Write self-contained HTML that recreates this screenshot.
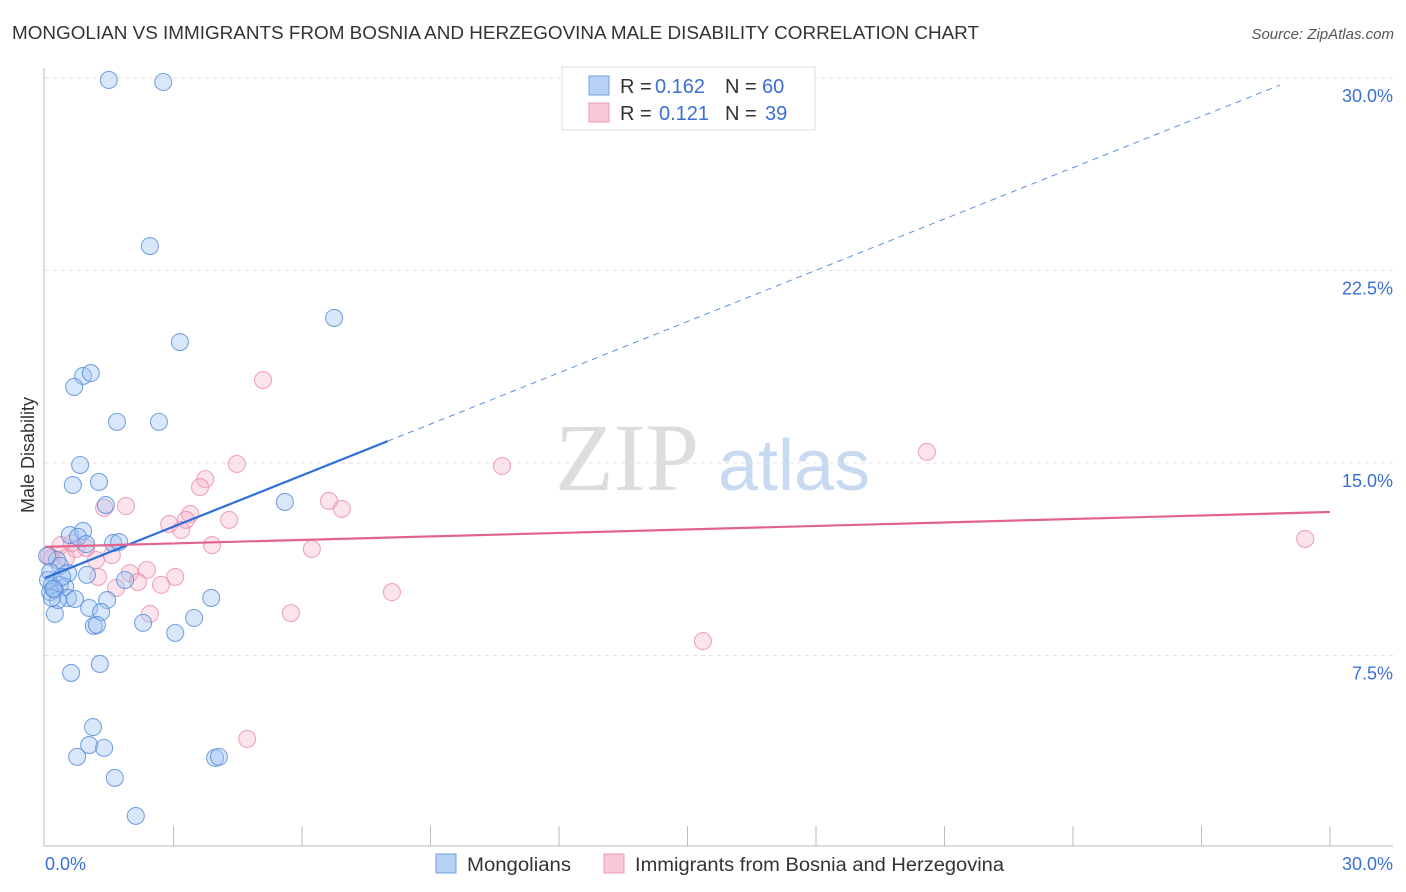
<!DOCTYPE html>
<html><head><meta charset="utf-8"><style>
body{margin:0;background:#fff;font-family:"Liberation Sans",sans-serif}
svg{display:block}
</style></head><body>
<svg id="c" width="1406" height="892" xmlns="http://www.w3.org/2000/svg">
<text x="12" y="39" font-size="18" fill="#333" textLength="967" lengthAdjust="spacingAndGlyphs">MONGOLIAN VS IMMIGRANTS FROM BOSNIA AND HERZEGOVINA MALE DISABILITY CORRELATION CHART</text>
<text x="1394" y="39" font-size="15" fill="#555" font-style="italic" text-anchor="end">Source: ZipAtlas.com</text>
<text transform="translate(34,455) rotate(-90)" font-size="18" fill="#333" text-anchor="middle">Male Disability</text>
<g><text x="555" y="490" font-size="96" fill="#ddd" font-family="Liberation Serif,serif">ZIP</text><text x="718" y="490" font-size="72" fill="#c8daf2">atlas</text></g>
<g id="grid"></g><g id="axes"></g><g id="lines"></g><g id="pts"></g>
<g>
<rect x="562" y="67" width="253" height="63" fill="#fff" stroke="#ddd"/>
<rect x="589" y="76" width="20" height="19" fill="#b8d2f5" stroke="#6f9fe0"/>
<rect x="589" y="103" width="20" height="19" fill="#f9c8d8" stroke="#e99ab4"/>
<text y="93" font-size="20" fill="#333"><tspan x="620">R =</tspan><tspan x="655" fill="#3a6fd6">0.162</tspan><tspan x="725">N =</tspan><tspan x="762" fill="#3a6fd6">60</tspan></text>
<text y="120" font-size="20" fill="#333"><tspan x="620">R =</tspan><tspan x="659" fill="#3a6fd6">0.121</tspan><tspan x="725">N =</tspan><tspan x="765" fill="#3a6fd6">39</tspan></text>
</g>
<g>
<rect x="436" y="854" width="20" height="19" fill="#b8d2f5" stroke="#6f9fe0"/>
<text x="467" y="871" font-size="19" fill="#333" textLength="104" lengthAdjust="spacingAndGlyphs">Mongolians</text>
<rect x="604" y="854" width="20" height="19" fill="#f9c8d8" stroke="#e99ab4"/>
<text x="635" y="871" font-size="19" fill="#333" textLength="369" lengthAdjust="spacingAndGlyphs">Immigrants from Bosnia and Herzegovina</text>
</g>
</svg>
<script>
const yTicks=[7.5,15,22.5,30];
const yTickLabels=["7.5%","15.0%","22.5%","30.0%"];
const xTickLabels=["0.0%","30.0%"];
const blueX=[1.49,2.76,2.45,6.75,3.15,0.89,1.07,0.68,1.68,2.66,0.82,0.65,1.26,5.60,1.42,0.58,0.89,0.77,1.59,1.73,0.28,0.35,0.12,0.54,0.98,1.87,0.16,0.35,0.47,0.12,0.23,0.54,0.70,1.45,3.88,1.03,1.31,0.23,2.29,1.14,1.21,3.48,3.04,1.28,0.61,1.12,1.03,1.38,0.75,3.97,4.06,1.63,2.12,0.05,0.07,0.30,0.96,0.40,0.16,0.20];
const blueY=[29.92,29.84,23.45,20.65,19.71,18.39,18.50,17.96,16.60,16.60,14.92,14.14,14.26,13.48,13.36,12.19,12.35,12.12,11.88,11.92,11.22,10.99,10.75,10.71,10.64,10.44,10.21,10.25,10.17,9.97,10.05,9.74,9.70,9.66,9.74,9.35,9.19,9.12,8.77,8.65,8.69,8.96,8.38,7.17,6.82,4.71,4.01,3.90,3.55,3.51,3.55,2.73,1.25,11.38,10.44,9.66,11.84,10.56,9.74,10.1];
const pinkX=[5.09,4.48,10.67,20.59,3.74,3.62,1.89,1.38,6.63,6.93,3.39,3.29,4.30,2.90,3.18,3.90,6.23,0.37,0.63,0.72,0.96,0.49,0.16,1.19,1.56,2.38,3.04,1.98,1.24,2.17,1.66,2.71,8.10,5.74,2.45,15.36,4.72,29.42,0.09];
const pinkY=[18.23,14.96,14.88,15.43,14.37,14.06,13.32,13.25,13.52,13.21,13.01,12.78,12.78,12.62,12.39,11.80,11.65,11.80,11.88,11.65,11.69,11.30,11.30,11.22,11.41,10.83,10.56,10.71,10.56,10.36,10.13,10.25,9.97,9.15,9.12,8.06,4.25,12.04,11.38];
const blueFit=[10.52,0.666];
const pinkFit=[11.73,0.0453];
const NS="http://www.w3.org/2000/svg";
const X=v=>45+v/30*1285, Y=v=>848-v*25.67;
function mk(t,a,p){const e=document.createElementNS(NS,t);for(const k in a)e.setAttribute(k,a[k]);p.appendChild(e);return e;}
const grid=document.getElementById('grid'),axes=document.getElementById('axes'),lines=document.getElementById('lines'),pts=document.getElementById('pts');
yTicks.forEach((t,i)=>{
 const l=mk('line',{x1:45,x2:1393,y1:Y(t),y2:Y(t),stroke:'#e2e2e2','stroke-dasharray':'4,4'},grid);
 
 
 const tx=mk('text',{x:1393,y:Y(t)+24,'font-size':18,fill:'#3a6fd6','text-anchor':'end'},grid);
 tx.textContent=yTickLabels[i];
 
 
});
mk('line',{x1:44,x2:44,y1:68,y2:846,stroke:'#bbb'},axes);
mk('line',{x1:44,x2:1393,y1:846,y2:846,stroke:'#bbb'},axes);
for(let i=1;i<=10;i++){const l=mk('line',{x1:X(i*3),x2:X(i*3),y1:826,y2:846,stroke:'#bbb'},axes);
 
 }
[[0,'start',45],[1,'end',1393]].forEach(([i,a,x])=>{const t=mk('text',{x:x,y:870,'font-size':18,fill:'#3a6fd6','text-anchor':a},axes);t.textContent=xTickLabels[i];
 
 });
let l1=mk('line',{x1:X(0),y1:Y(blueFit[0]),x2:X(8),y2:Y(blueFit[0]+blueFit[1]*8),stroke:'#2f6fd6','stroke-width':2.2},lines);


let l2=mk('line',{x1:X(8),y1:Y(blueFit[0]+blueFit[1]*8),x2:X(28.83),y2:Y(blueFit[0]+blueFit[1]*28.83),stroke:'#5b8fe0','stroke-width':1,'stroke-dasharray':'6,5'},lines);


let l3=mk('line',{x1:X(0),y1:Y(pinkFit[0]),x2:X(30),y2:Y(pinkFit[0]+pinkFit[1]*30),stroke:'#e3638f','stroke-width':2.2},lines);


pinkX.forEach((x,i)=>{const c=mk('circle',{cx:X(x),cy:Y(pinkY[i]),r:8.5,fill:'rgba(246,172,198,0.32)',stroke:'rgba(232,130,165,0.7)','stroke-width':1.1},pts);
 
 });
blueX.forEach((x,i)=>{const c=mk('circle',{cx:X(x),cy:Y(blueY[i]),r:8.5,fill:'rgba(160,196,242,0.4)',stroke:'rgba(80,135,215,0.75)','stroke-width':1.1},pts);
 
 });
lines.parentNode.appendChild(lines);
</script>
</body></html>
